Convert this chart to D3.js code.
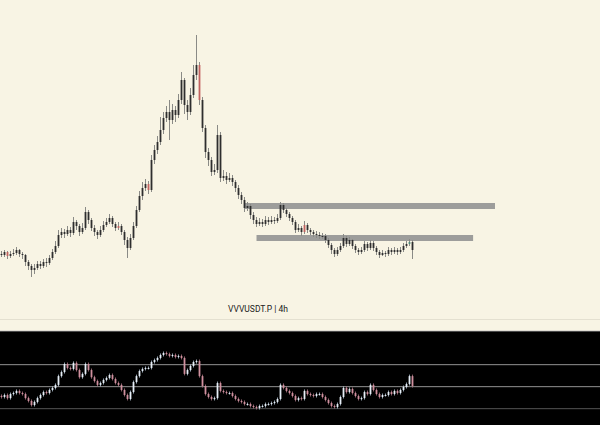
<!DOCTYPE html>
<html><head><meta charset="utf-8">
<script src="https://cdn.jsdelivr.net/npm/d3@7"></script>
<style>html,body{margin:0;padding:0;background:#f8f4e4;overflow:hidden}</style>
</head><body>
<svg id="c" width="600" height="425"></svg>
<script>
const symbolLabel = "VVVUSDT.P | 4h";
const closes = [6.5,6.8,6.4,6.6,6.7,7.0,6.6,6.5,5.8,5.4,5.0,5.2,5.6,5.4,5.8,5.7,6.2,6.8,7.4,8.5,
8.8,8.6,9.0,8.7,9.8,9.4,8.8,9.2,10.8,10.0,9.2,8.8,8.5,9.0,9.5,9.8,10.2,9.6,9.2,9.4,
8.8,8.0,7.2,8.2,9.4,11.0,12.4,13.2,13.6,13.0,16.0,17.0,17.8,19.0,20.2,20.8,20.0,21.0,20.5,22.0,
24.0,21.5,20.8,22.5,24.5,25.5,22.0,19.2,16.8,16.0,14.8,15.0,18.5,14.2,14.4,14.0,14.2,13.8,13.2,12.5,
12.0,11.2,11.4,10.5,10.0,9.6,9.8,9.6,10.0,9.8,10.0,9.9,10.2,11.5,11.0,10.6,10.2,9.8,9.0,9.2,
8.8,9.5,9.0,8.8,8.6,8.5,8.4,8.4,8.0,7.5,7.0,6.6,7.0,7.4,8.2,7.6,8.0,7.4,7.0,6.8,
7.0,7.6,7.2,7.7,7.2,6.8,6.5,6.7,6.6,7.0,6.8,7.0,6.8,7.0,7.4,7.6,7.8,7.0];
const firstOpen = 6.6;
const highs = [6.9,7.0,6.9,6.9,7.1,7.3,7.1,6.8,6.6,6.0,5.6,5.6,5.9,5.9,6.1,6.2,6.5,7.1,7.9,9.0,
9.2,9.1,9.4,9.3,10.3,10.0,9.6,9.7,11.3,11.0,10.2,9.5,9.0,9.4,9.9,10.2,10.6,10.4,9.8,9.8,
9.6,9.0,8.3,8.6,9.8,11.4,12.9,13.8,14.1,13.9,16.5,17.5,18.4,20.3,20.8,21.4,22.0,21.6,21.4,22.6,
24.8,24.2,22.0,23.2,25.5,28.5,25.8,22.3,19.5,17.2,16.3,15.6,19.5,18.8,15.0,14.8,14.7,14.5,14.0,13.5,
12.8,12.3,11.8,11.6,10.8,10.3,10.2,10.1,10.4,10.3,10.4,10.3,10.6,11.8,11.7,11.2,10.8,10.4,10.0,9.6,
9.4,9.9,9.7,9.2,9.0,8.9,8.8,8.7,8.6,8.2,7.7,7.2,7.3,7.7,8.6,8.4,8.3,8.1,7.6,7.2,
7.3,7.9,7.8,8.0,7.9,7.4,7.0,7.0,6.9,7.3,7.2,7.3,7.2,7.3,7.7,7.9,8.1,8.0];
const lows = [6.3,6.3,6.1,6.2,6.4,6.5,6.3,6.1,5.4,5.0,4.3,4.6,5.0,5.1,5.2,5.3,5.5,6.0,6.6,7.2,
8.2,8.2,8.4,8.3,8.5,9.0,8.4,8.6,9.0,9.6,8.9,8.4,8.1,8.3,8.8,9.3,9.6,9.3,8.9,9.0,
8.5,7.5,6.2,7.0,8.0,9.2,10.8,12.0,12.9,12.6,12.8,15.6,16.6,17.5,18.6,19.8,18.0,19.6,19.8,20.2,
21.6,20.6,20.0,20.5,22.2,24.0,21.5,18.8,16.2,15.4,14.4,14.5,14.7,13.8,13.9,13.6,13.8,13.4,12.8,12.1,
11.6,10.8,10.9,10.1,9.6,9.3,9.4,9.3,9.4,9.5,9.6,9.6,9.7,10.0,10.7,10.3,9.9,9.5,8.7,8.8,
8.4,8.6,8.7,8.5,8.3,8.2,8.1,8.1,7.7,7.2,6.6,6.3,6.4,6.8,7.2,7.3,7.4,7.1,6.7,6.5,
6.6,6.8,6.9,7.0,6.9,6.5,6.2,6.4,6.3,6.4,6.5,6.6,6.5,6.6,6.8,7.2,7.4,6.1];
const redBars = [2,39,49,66,101];
const tealBars = [136];
const zones = [
  {from: 81, to: 164.5, top: 11.7, bottom: 11.1},
  {from: 85, to: 157.2, top: 8.5, bottom: 7.9}
];
const rsi = [40,41.8,39,42.7,43.6,45.5,43.6,42.7,39,36.4,32.7,35.5,39,41.8,44.5,43.6,46.4,48.2,51,59,
62.7,70,66.4,65.5,71,64.5,58,61,70,64.5,58,54.5,51,52.7,55.5,57.3,60,56.4,52.7,51,
46.4,41.8,38.2,44.5,53.6,59,63.6,65.5,66.4,66.4,71.8,73.6,75.5,78.2,80,79,77.3,78.2,76.4,77.3,
75.5,61,64.5,68.2,71.8,72.7,59,50,42.7,40,38.2,39,52.7,45.5,44.5,43.6,43.6,40.9,38.2,36.4,
35.5,33.6,33.6,31.8,30.9,30,31.8,31.8,33.6,33.6,34.5,35.5,38.2,51,48.2,45.5,43.6,40.9,37.3,39,
38.2,45.5,42.7,41.8,40.9,42.7,42.7,40,37.3,34.5,31.8,30.9,33.6,40,48.2,44.5,47.3,43.6,40.9,38.2,
39,44.5,42.7,51,46.4,42.7,40,41.8,41.8,44.5,42.7,45.5,43.6,46.4,49.1,51.8,59,50];
const rsiFirstOpen = 41;
const rsiLevels = [70, 50, 30];
const levelColors = ["#7a7a7a", "#7a7a7a", "#454545"];

const bars = closes.map((c,i)=>({i, o: i===0?firstOpen:closes[i-1], c, h: highs[i], l: lows[i]}));
const rbars = rsi.map((c,i)=>({i, o: i===0?rsiFirstOpen:rsi[i-1], c}));

const svg = d3.select("#c");
const x = d3.scaleLinear().domain([0,199]).range([1.5,598.5]);
const y = d3.scaleLinear().domain([0,32]).range([320,0]);
const yr = d3.scaleLinear().domain([0,100]).range([441,331]);

svg.append("rect").attr("width",600).attr("height",425).attr("fill","#f8f4e4");

svg.selectAll("rect.zone").data(zones).join("rect").attr("class","zone")
  .attr("x",d=>x(d.from)).attr("width",d=>x(d.to)-x(d.from))
  .attr("y",d=>y(d.top)).attr("height",d=>y(d.bottom)-y(d.top))
  .attr("fill","#9d9d9b");

function barColor(d){
  if (redBars.includes(d.i)) return "#c2625f";
  if (tealBars.includes(d.i)) return "#4d8c7c";
  return "#2e2e2e";
}
const g = svg.append("g");
g.selectAll("line.w").data(bars).join("line").attr("class","w")
  .attr("x1",d=>x(d.i)).attr("x2",d=>x(d.i))
  .attr("y1",d=>y(d.h)).attr("y2",d=>y(d.l))
  .attr("stroke","#8a8a86").attr("stroke-width",1);
g.selectAll("rect.b").data(bars).join("rect").attr("class","b")
  .attr("x",d=>x(d.i)-0.9).attr("width",1.8)
  .attr("y",d=>y(Math.max(d.o,d.c)))
  .attr("height",d=>Math.max(1,Math.abs(y(d.o)-y(d.c))))
  .attr("fill",barColor);

svg.append("text").attr("x",258).attr("y",312).attr("text-anchor","middle")
  .attr("font-family","Roboto, 'DejaVu Sans', sans-serif").attr("font-size",8.5)
  .attr("fill","#222").attr("xml:space","preserve").text(symbolLabel);
svg.append("line").attr("x1",0).attr("x2",600).attr("y1",319.5).attr("y2",319.5)
  .attr("stroke","#e4e0d0").attr("stroke-width",1);

svg.append("rect").attr("x",0).attr("y",331).attr("width",600).attr("height",94).attr("fill","#000");
svg.append("line").attr("x1",0).attr("x2",600).attr("y1",331).attr("y2",331).attr("stroke","#bbb").attr("stroke-width",0.8);
svg.selectAll("rect.lvl").data(rsiLevels).join("rect").attr("class","lvl")
  .attr("x",0).attr("width",600).attr("y",d=>Math.round(yr(d))).attr("height",1.2)
  .attr("fill",(d,i)=>levelColors[i]);

const rg = svg.append("g");
rg.selectAll("line.rw").data(rbars).join("line").attr("class","rw")
  .attr("x1",d=>x(d.i)).attr("x2",d=>x(d.i))
  .attr("y1",d=>yr(Math.max(d.o,d.c))-1.5).attr("y2",d=>yr(Math.min(d.o,d.c))+1.5)
  .attr("stroke",d=>d.c>=d.o?"#b9c9da":"#b07888").attr("stroke-width",0.8);
rg.selectAll("rect.rb").data(rbars).join("rect").attr("class","rb")
  .attr("x",d=>x(d.i)-0.9).attr("width",1.8)
  .attr("y",d=>yr(Math.max(d.o,d.c)))
  .attr("height",d=>Math.max(1,Math.abs(yr(d.o)-yr(d.c))))
  .attr("fill",d=>d.c>=d.o?"#e6eef6":"#d0909e");
</script>
</body></html>
